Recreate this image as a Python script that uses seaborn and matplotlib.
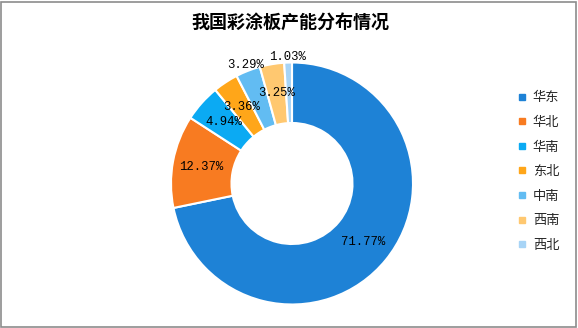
import numpy as np
import matplotlib
matplotlib.use("Agg")
import matplotlib.pyplot as plt
from matplotlib.patches import Rectangle
from matplotlib.lines import Line2D
import seaborn as sns

title = "我国彩涂板产能分布情况"
regions = ["华东", "华北", "华南", "东北", "中南", "西南", "西北"]
shares = [71.77, 12.37, 4.94, 3.36, 3.29, 3.25, 1.03]
colors = ["#1E82D6", "#F87B21", "#0BAAF3", "#FFA619", "#62BCF2", "#FFC870", "#A7D4F6"]
outside_labels = ["中南", "西北"]

sns.set_theme(style="white")
plt.rcParams["font.family"] = ["Noto Sans CJK SC", "DejaVu Sans"]
palette = sns.color_palette(colors)

W, H = 578, 328
fig = plt.figure(figsize=(W / 100, H / 100), dpi=100)
fig.patch.set_facecolor("white")

cx, cy, R = 292, 183.5, 121
lim = 1.05
half = R * lim
ax = fig.add_axes([(cx - half) / W, (H - cy - half) / H, 2 * half / W, 2 * half / H])

wedges, _ = ax.pie(shares, colors=palette, startangle=90, counterclock=False,
                   radius=1.0, wedgeprops=dict(width=0.5, edgecolor="white", linewidth=1.5))
ax.set_xlim(-lim, lim)
ax.set_ylim(-lim, lim)
ax.set_aspect("equal")
ax.axis("off")

total = sum(shares)
cum = 0.0
for name, v in zip(regions, shares):
    mid = cum + v / 2
    cum += v
    ang = np.deg2rad(90 - 360 * mid / total)
    r = 1.05 if name in outside_labels else 0.76
    ax.text(r * np.cos(ang), r * np.sin(ang), f"{v:.2f}%", ha="center", va="center",
            fontsize=8.8, family=["Liberation Mono", "DejaVu Sans Mono"], color="black")

fig.text(290 / W, 1 - 22 / H, title, ha="center", va="center", fontsize=13,
         fontweight="bold", color="#000000")

handles = [Line2D([0], [0], marker="s", linestyle="none", markersize=4.5,
                  markerfacecolor=c, markeredgecolor=c) for c in palette]
leg = fig.legend(handles, regions, loc="upper left", bbox_to_anchor=(511 / W, 1 - 86 / H),
                 frameon=False, fontsize=9.5, labelspacing=0.88, handlelength=0.8,
                 handletextpad=0.45, borderaxespad=0)

fig.patches.append(Rectangle((0.5 / W, 1.5 / H), (W - 2.5) / W, (H - 3) / H,
                             transform=fig.transFigure, fill=False,
                             edgecolor="#8C8C8C", linewidth=1.2))

fig.savefig("out.png", dpi=100, facecolor="white")
